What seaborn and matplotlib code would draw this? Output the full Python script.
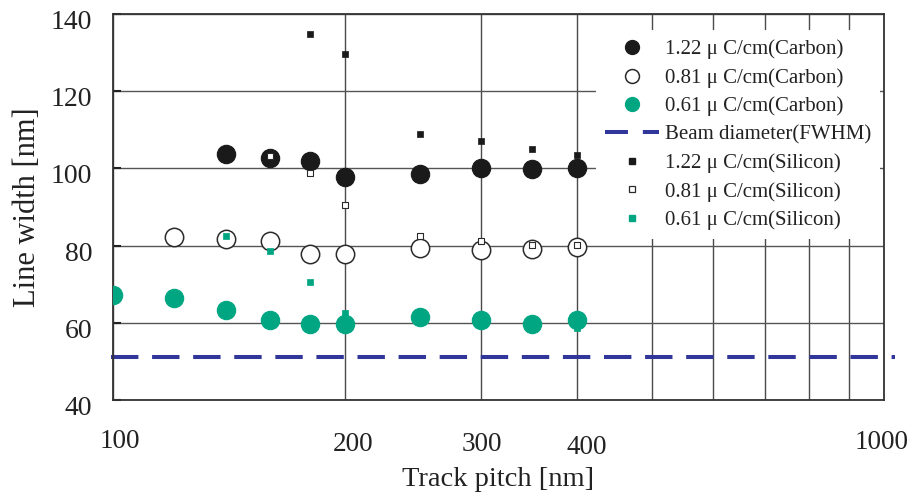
import numpy as np
import pandas as pd
import matplotlib
matplotlib.use("Agg")
import matplotlib.pyplot as plt
import matplotlib.transforms as mtrans
from matplotlib.lines import Line2D
import seaborn as sns

# ---------------- data ----------------
c122_x = [140, 160, 180, 200, 250, 300, 350, 400]
c122_y = [103.7, 102.6, 102.0, 97.9, 98.5, 100.0, 99.8, 100.2]

c081_x = [120, 140, 160, 180, 200, 250, 300, 350, 400]
c081_y = [82.2, 81.8, 81.1, 77.8, 77.8, 79.3, 78.9, 79.0, 79.7]

c061_x = [100, 120, 140, 160, 180, 200, 250, 300, 350, 400]
c061_y = [67.3, 66.3, 63.3, 60.6, 59.8, 59.8, 61.6, 60.6, 59.8, 60.7]

s122_x = [180, 200, 250, 300, 350, 400]
s122_y = [134.7, 129.6, 108.9, 107.2, 105.0, 103.5]

s081_x = [160, 180, 200, 250, 300, 350, 400]
s081_y = [103.2, 98.8, 90.4, 82.6, 81.1, 80.2, 80.2]

s061_x = [140, 160, 180, 200, 400]
s061_y = [82.6, 78.7, 70.6, 62.5, 58.6]

beam_x = [99.4, 1033]
beam_y = [51.2, 51.2]

labels = ["1.22 μ C/cm(Carbon)", "0.81 μ C/cm(Carbon)", "0.61 μ C/cm(Carbon)",
          "Beam diameter(FWHM)",
          "1.22 μ C/cm(Silicon)", "0.81 μ C/cm(Silicon)", "0.61 μ C/cm(Silicon)"]

x_major = [100, 200, 300, 400, 1000]
x_minor = [500, 600, 700, 800, 900]
y_ticks = [40, 60, 80, 100, 120, 140]

# ---------------- style ----------------
sns.set_theme(style="white")
plt.rcParams["font.family"] = ["Liberation Serif", "DejaVu Serif"]
GREEN = "#00A682"
NAVY = "#31369A"
GRID = "#4a4a4a"

fig = plt.figure(figsize=(9.13, 4.99), dpi=100)
ax = fig.add_axes([113 / 913, 99 / 499, 771 / 913, 386 / 499])
ax.set_xscale("log")
ax.set_xlim(100, 1000)
ax.set_ylim(40, 140)

big = 175
small = 24

def df(x, y):
    return pd.DataFrame({"x": x, "y": y})

sns.scatterplot(data=df(c122_x, c122_y), x="x", y="y", ax=ax, s=big, color="#1a1a1a",
                edgecolor="#1a1a1a", linewidth=0.8, zorder=3, legend=False)
sns.scatterplot(data=df(c081_x, c081_y), x="x", y="y", ax=ax, s=big, facecolor="white",
                edgecolor="#2a2a2a", linewidth=1.1, zorder=3, legend=False)
sns.scatterplot(data=df(c061_x, c061_y), x="x", y="y", ax=ax, s=big, color=GREEN,
                edgecolor=GREEN, linewidth=0.8, zorder=3, legend=False)

sns.lineplot(data=df(beam_x, beam_y), x="x", y="y", ax=ax, color=NAVY, linewidth=2.9,
             zorder=2, legend=False)
beam_line = ax.get_lines()[-1]
beam_line.set_dashes((6.8, 3.4))
beam_line.set_clip_on(False)

sns.scatterplot(data=df(s122_x, s122_y), x="x", y="y", ax=ax, s=small, marker="s",
                color="#1a1a1a", edgecolor="#1a1a1a", linewidth=0.5, zorder=4, legend=False)
sns.scatterplot(data=df(s081_x, s081_y), x="x", y="y", ax=ax, s=small, marker="s",
                facecolor="white", edgecolor="#2a2a2a", linewidth=0.8, zorder=4, legend=False)
sns.scatterplot(data=df(s061_x, s061_y), x="x", y="y", ax=ax, s=small, marker="s",
                color=GREEN, edgecolor=GREEN, linewidth=0.5, zorder=4, legend=False)

# ---------------- axes, ticks, grid ----------------
ax.set_xticks(x_major)
ax.set_xticklabels([str(v) for v in x_major])
ax.set_xticks(x_minor, minor=True)
ax.set_xticklabels([], minor=True)
ax.set_yticks(y_ticks)
ax.set_yticklabels([str(v) for v in y_ticks])

ax.grid(True, which="both", axis="x", color=GRID, linewidth=1.0, zorder=1)
ax.grid(True, which="major", axis="y", color="#555555", linewidth=1.0, zorder=1)
ax.set_axisbelow(True)

ax.tick_params(axis="x", which="both", length=0, pad=21, labelsize=19.5, colors="#222222")
ax.tick_params(axis="y", which="major", direction="in", length=6, width=1.5,
               pad=15, labelsize=20, colors="#222222", left=True)
for sp in ax.spines.values():
    sp.set_color("#333333")
    sp.set_linewidth(1.3)

ax.set_xlabel("Track pitch [nm]", fontsize=20.5, color="#222222", labelpad=5)
ax.set_ylabel("Line width [nm]", fontsize=22, color="#222222", labelpad=6)

# small offsets of the tick labels to match the reference (in pixels at 100 dpi)
offy = mtrans.ScaledTranslation(0, -4 / 72, fig.dpi_scale_trans)
for lab in ax.get_yticklabels():
    lab.set_transform(lab.get_transform() + offy)
x_shift_px = [7, 8, 1, 10, -2]
y_shift_px = [0, -3, -3, -6, -1]
for lab, dx, dy in zip(ax.get_xticklabels(), x_shift_px, y_shift_px):
    off = mtrans.ScaledTranslation(dx / 100, dy / 100, fig.dpi_scale_trans)
    lab.set_transform(lab.get_transform() + off)

# ---------------- legend ----------------
handles = [
    Line2D([], [], linestyle="none", marker="o", markersize=10, markerfacecolor="#1a1a1a",
           markeredgecolor="#1a1a1a"),
    Line2D([], [], linestyle="none", marker="o", markersize=10, markerfacecolor="white",
           markeredgecolor="#2a2a2a", markeredgewidth=1.1),
    Line2D([], [], linestyle="none", marker="o", markersize=10, markerfacecolor=GREEN,
           markeredgecolor=GREEN),
    Line2D([], [], color=NAVY, linewidth=2.9, dashes=(5.7, 3.7)),
    Line2D([], [], linestyle="none", marker="s", markersize=4.6, markerfacecolor="#1a1a1a",
           markeredgecolor="#1a1a1a"),
    Line2D([], [], linestyle="none", marker="s", markersize=4.6, markerfacecolor="white",
           markeredgecolor="#2a2a2a", markeredgewidth=0.9),
    Line2D([], [], linestyle="none", marker="s", markersize=4.6, markerfacecolor=GREEN,
           markeredgecolor=GREEN),
]
leg = ax.legend(handles, labels, loc="upper right", bbox_to_anchor=(0.995, 0.958),
                borderaxespad=0, fontsize=15, frameon=True, fancybox=False,
                facecolor="white", edgecolor="none", framealpha=1.0,
                handlelength=2.6, handletextpad=0.25, labelspacing=0.42,
                borderpad=0.45)
for t in leg.get_texts():
    t.set_color("#222222")
leg.set_zorder(5)

fig.savefig("out.png", dpi=100)
